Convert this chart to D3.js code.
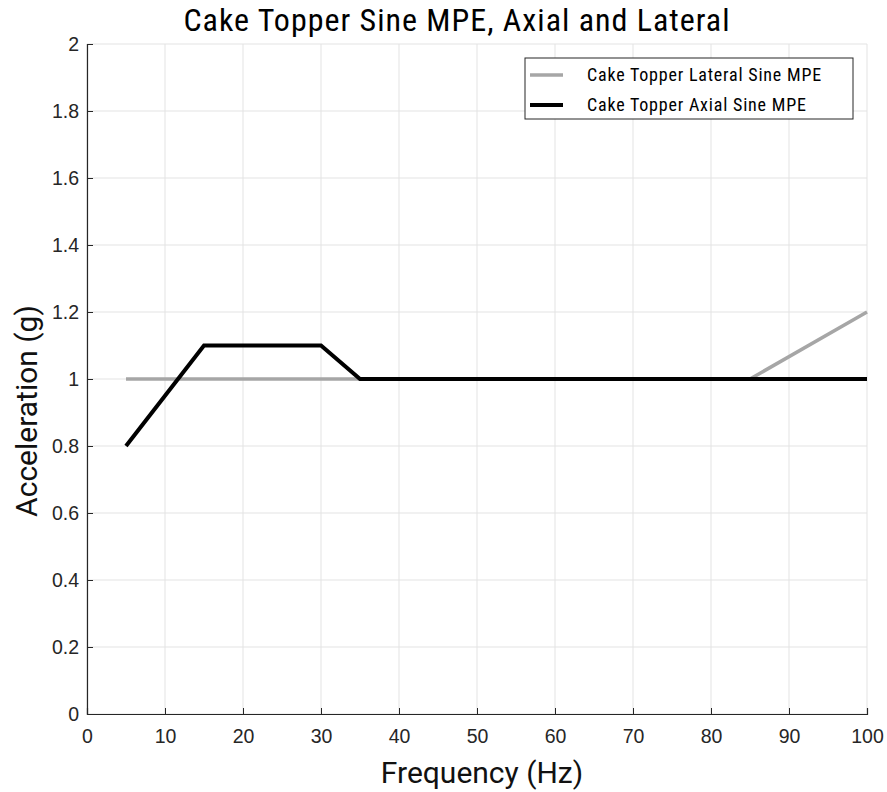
<!DOCTYPE html>
<html><head><meta charset="utf-8">
<script src="https://cdn.jsdelivr.net/npm/d3@7"></script>
<style>body{margin:0;background:#fff}</style>
</head><body>
<svg id="c" width="887" height="792"></svg>
<script>
const title = "Cake Topper Sine MPE, Axial and Lateral";
const xLabel = "Frequency (Hz)";
const yLabel = "Acceleration (g)";
const xTicks = [0,10,20,30,40,50,60,70,80,90,100];
const yTicks = [0,0.2,0.4,0.6,0.8,1,1.2,1.4,1.6,1.8,2];
const lateralFreq = [5,85,100];
const lateralAcc = [1,1,1.2];
const axialFreq = [5,15,30,35,100];
const axialAcc = [0.8,1.1,1.1,1,1];
const seriesNames = ["Cake Topper Lateral Sine MPE","Cake Topper Axial Sine MPE"];
const seriesColors = ["#a6a6a6","#000000"];

const svg = d3.select("#c");
const L=87, R=867, T=44, B=714;
const x = d3.scaleLinear().domain([0,100]).range([L,R]);
const y = d3.scaleLinear().domain([0,2]).range([B,T]);
const tickFont = "'Liberation Sans', Arial, sans-serif";
const labelFont = "Roboto, 'Liberation Sans', sans-serif";
const condFont = "'Liberation Sans Narrow','Roboto Condensed',Roboto, sans-serif";

// grid
const g = svg.append("g");
g.selectAll(".vx").data(xTicks).join("line")
  .attr("x1",d=>x(d)).attr("x2",d=>x(d)).attr("y1",T).attr("y2",B)
  .attr("stroke","#e3e3e3").attr("stroke-width",1);
g.selectAll(".hy").data(yTicks).join("line")
  .attr("x1",L).attr("x2",R).attr("y1",d=>y(d)).attr("y2",d=>y(d))
  .attr("stroke","#e3e3e3").attr("stroke-width",1);

// axes
const xa = svg.append("g").attr("transform",`translate(0,${B})`)
  .call(d3.axisBottom(x).tickValues(xTicks).tickSize(-6).tickPadding(15).tickFormat(d3.format("d")));
const ya = svg.append("g").attr("transform",`translate(${L},0)`)
  .call(d3.axisLeft(y).tickValues(yTicks).tickSize(-6).tickPadding(8).tickFormat(d=>String(+d.toFixed(1))));
[xa,ya].forEach(a=>{
  a.select(".domain").attr("stroke","#262626").attr("stroke-width",1.2);
  a.selectAll(".tick line").attr("stroke","#262626");
  a.selectAll(".tick text").attr("font-family",tickFont).attr("font-size",19.5).attr("fill","#262626");
});

// lines
const line = d3.line().x(d=>x(d[0])).y(d=>y(d[1]));
const latData = lateralFreq.map((f,i)=>[f,lateralAcc[i]]);
const axData = axialFreq.map((f,i)=>[f,axialAcc[i]]);
svg.append("path").attr("d",line(latData)).attr("fill","none")
  .attr("stroke",seriesColors[0]).attr("stroke-width",3.5);
svg.append("path").attr("d",line(axData)).attr("fill","none")
  .attr("stroke",seriesColors[1]).attr("stroke-width",4);

// title & labels
svg.append("text").attr("x",(L+R)/2 - 20).attr("y",31).attr("text-anchor","middle")
  .attr("font-family",condFont).attr("font-size",32).attr("letter-spacing",1).attr("fill","#000").text(title);
svg.append("text").attr("x",(L+R)/2 + 5).attr("y",783).attr("text-anchor","middle")
  .attr("font-family",labelFont).attr("font-size",30).attr("fill","#111").text(xLabel);
svg.append("text").attr("transform",`translate(37,${(T+B)/2 + 32}) rotate(-90)`).attr("text-anchor","middle")
  .attr("font-family",labelFont).attr("font-size",30).attr("fill","#111").text(yLabel);

// legend
const lg = svg.append("g");
lg.append("rect").attr("x",525).attr("y",58).attr("width",328).attr("height",61)
  .attr("fill","#fff").attr("stroke","#262626").attr("stroke-width",1);
seriesNames.forEach((n,i)=>{
  const yy = 75 + i*30;
  lg.append("line").attr("x1",530).attr("x2",563).attr("y1",yy).attr("y2",yy)
    .attr("stroke",seriesColors[i]).attr("stroke-width",i?4:3.5);
  lg.append("text").attr("x",587).attr("y",yy+6).attr("font-family",condFont)
    .attr("font-size",18).attr("letter-spacing",0.8).attr("fill","#000").text(n);
});
</script>
</body></html>
